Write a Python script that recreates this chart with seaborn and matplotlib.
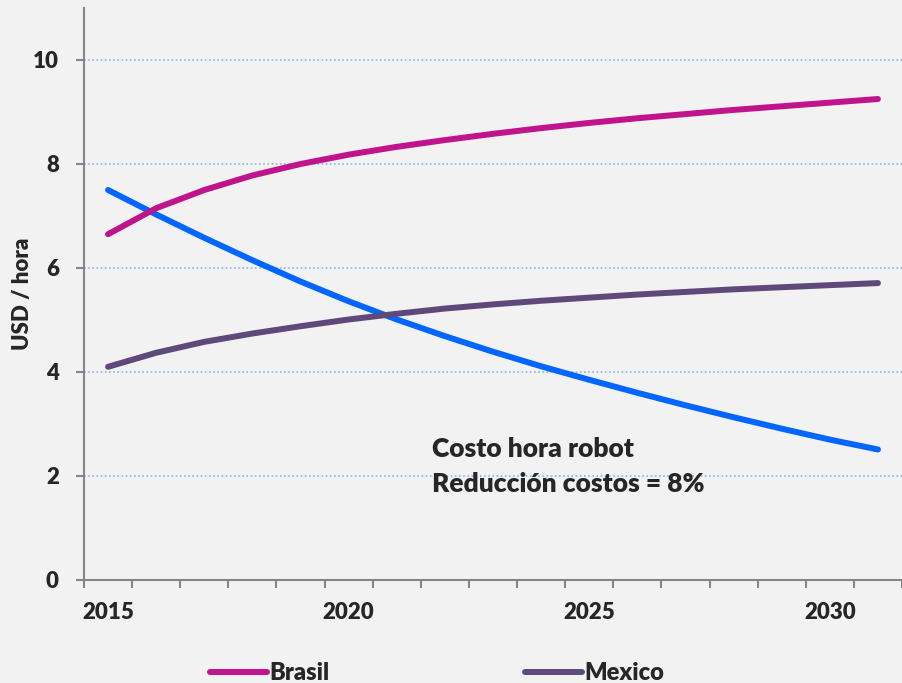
import matplotlib
matplotlib.use("Agg")
import matplotlib.pyplot as plt
from matplotlib.lines import Line2D
from matplotlib.ticker import FixedLocator, NullFormatter, FuncFormatter
import seaborn as sns
import pandas as pd

# --- data ---
years = list(range(2015, 2032))
brasil = [6.65, 7.15, 7.50, 7.78, 8.00, 8.18, 8.33, 8.46, 8.58, 8.69,
          8.79, 8.88, 8.96, 9.04, 9.11, 9.18, 9.25]
mexico = [4.10, 4.37, 4.58, 4.74, 4.88, 5.01, 5.12, 5.22, 5.30, 5.37,
          5.43, 5.49, 5.54, 5.59, 5.63, 5.67, 5.71]
robot = [7.50, 7.03, 6.58, 6.15, 5.74, 5.36, 5.01, 4.69, 4.39, 4.11,
         3.85, 3.60, 3.36, 3.13, 2.91, 2.70, 2.51]
series_order = ["Costo hora robot", "Brasil", "Mexico"]
legend_names = ["Brasil", "Mexico"]
tick_years = [2015, 2020, 2025, 2030]
y_ticks = [0, 2, 4, 6, 8, 10]
note_lines = ["Costo hora robot", "Reducción costos = 8%"]

palette = {"Brasil": "#C0148C", "Mexico": "#5F497A", "Costo hora robot": "#0066FF"}
bg = "#F2F2F2"
axis_gray = "#868686"
W = "heavy"

sns.set_style("white")
plt.rcParams['font.family'] = ['Lato', 'DejaVu Sans']
plt.rcParams['font.weight'] = W

df = pd.DataFrame({"year": years, "Brasil": brasil, "Mexico": mexico,
                   "Costo hora robot": robot})
long_df = df.melt(id_vars="year", var_name="serie", value_name="usd")

fig = plt.figure(figsize=(9.02, 6.83), dpi=100, facecolor=bg)
ax = fig.add_axes([84 / 902, 1 - 580 / 683, 818 / 902, 572 / 683])
ax.set_facecolor(bg)

sns.lineplot(data=long_df, x="year", y="usd", hue="serie", hue_order=series_order,
             palette=palette, linewidth=4.3, solid_capstyle="round",
             solid_joinstyle="round", legend=False, ax=ax, zorder=3)

ax.set_xlim(2014.5, 2031.5)
ax.set_ylim(0, 11)

# category-style x axis: ticks between years, labels every 5 years
ax.xaxis.set_major_locator(FixedLocator([y - 0.5 for y in years] + [years[-1] + 0.5]))
ax.xaxis.set_major_formatter(NullFormatter())
ax.xaxis.set_minor_locator(FixedLocator(tick_years))
ax.xaxis.set_minor_formatter(FuncFormatter(lambda v, p: f"{int(round(v))}"))
ax.tick_params(axis="x", which="major", direction="out", length=6, width=1.5,
               color=axis_gray, bottom=True)
ax.tick_params(axis="x", which="minor", length=0, pad=16, labelsize=16, bottom=True)

ax.set_yticks(y_ticks)
ax.tick_params(axis="y", direction="out", length=6, width=1.5, color=axis_gray,
               pad=12, labelsize=16, left=True)
for lab in ax.get_xticklabels(minor=True) + ax.get_yticklabels():
    lab.set_fontweight(W)

ax.yaxis.grid(True, color="#8DB4E2", linestyle=(0, (1, 1.5)), linewidth=1.2, zorder=0)
ax.xaxis.grid(False)

for side in ["top", "right"]:
    ax.spines[side].set_visible(False)
for side in ["left", "bottom"]:
    ax.spines[side].set_color(axis_gray)
    ax.spines[side].set_linewidth(1.5)
    ax.spines[side].set_zorder(4)

ax.set_xlabel("")
ax.set_ylabel("USD / hora", fontsize=16, fontweight=W)
ax.yaxis.set_label_coords(-0.062, 0.5)

ax.text(0.4254, (580 - 457) / 572, note_lines[0], transform=ax.transAxes,
        fontsize=19, fontweight=W, va="baseline", ha="left")
ax.text(0.4254, (580 - 492) / 572, note_lines[1], transform=ax.transAxes,
        fontsize=19, fontweight=W, va="baseline", ha="left")

handles = [Line2D([0], [0], color=palette[n], lw=4.3, solid_capstyle="round")
           for n in legend_names]
fig.legend(handles, legend_names, loc="center left",
           bbox_to_anchor=(210 / 902, 1 - 673 / 683), ncol=2, frameon=False,
           borderpad=0, borderaxespad=0, handlelength=2.4, handletextpad=0.1,
           columnspacing=8.3, prop={"size": 17, "weight": W})

fig.savefig("out.png", dpi=100, facecolor=bg)
